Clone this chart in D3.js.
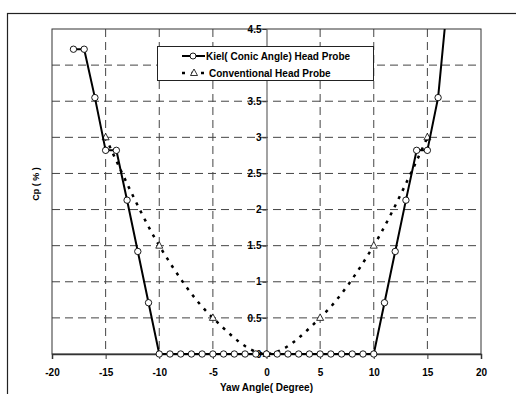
<!DOCTYPE html>
<html>
<head>
<meta charset="utf-8">
<script src="https://cdn.jsdelivr.net/npm/d3@7"></script>
<style>
  body { margin: 0; background: #fff; }
  svg text { font-family: "Liberation Sans", Arial, sans-serif; }
</style>
</head>
<body>
<div id="chart-area"></div>
<script>
// data
var kielX = [-18, -17, -16, -15, -14, -13, -12, -11, -10, -9, -8, -7, -6, -5, -4, -3, -2, -1, 0,
             1, 2, 3, 4, 5, 6, 7, 8, 9, 10, 11, 12, 13, 14, 15, 16, 17];
var kielCp = [4.22, 4.22, 3.55, 2.82, 2.82, 2.13, 1.42, 0.71, 0, 0, 0, 0, 0, 0, 0, 0, 0, 0, 0,
              0, 0, 0, 0, 0, 0, 0, 0, 0, 0, 0.71, 1.42, 2.13, 2.82, 2.82, 3.55, 5.1];
var convX = [-15, -10, -5, 0, 5, 10, 15];
var convCp = [3, 1.5, 0.5, 0, 0.5, 1.5, 3];
var xTicks = [-20, -15, -10, -5, 0, 5, 10, 15, 20];
var yTicks = [0, 0.5, 1, 1.5, 2, 2.5, 3, 3.5, 4, 4.5];
var legendNames = ["Kiel( Conic Angle) Head Probe", "Conventional Head Probe"];

var svg_width = 516;
var svg_height = 394;
var pLeft = 52, pRight = 481, pTop = 29, pBottom = 354;

var svg = d3.select("#chart-area").append("svg")
    .attr("width", svg_width)
    .attr("height", svg_height);

// outer frame (runs off the right and bottom edges)
svg.append("rect")
    .attr("x", 7.5).attr("y", 13.5)
    .attr("width", 520).attr("height", 400)
    .attr("fill", "#fff").attr("stroke", "#222").attr("stroke-width", 1.2);

var x = d3.scaleLinear().domain([-20, 20]).range([pLeft, pRight]);
var y = d3.scaleLinear().domain([0, 4.5]).range([pBottom, pTop]);

// grid
svg.selectAll(".hgrid")
    .data(yTicks.filter(function(d) { return d > 0 && d < 4.5; }))
    .enter().append("line")
    .attr("x1", pLeft).attr("x2", pRight)
    .attr("y1", function(d) { return y(d); })
    .attr("y2", function(d) { return y(d); })
    .attr("stroke", "#444").attr("stroke-dasharray", "8,5");

svg.selectAll(".vgrid")
    .data(xTicks.filter(function(d) { return d != 0 && Math.abs(d) < 20; }))
    .enter().append("line")
    .attr("y1", pTop).attr("y2", pBottom)
    .attr("x1", function(d) { return x(d); })
    .attr("x2", function(d) { return x(d); })
    .attr("stroke", "#444").attr("stroke-dasharray", "8,5");

// plot frame
svg.append("rect")
    .attr("x", pLeft).attr("y", pTop)
    .attr("width", pRight - pLeft).attr("height", pBottom - pTop)
    .attr("fill", "none").attr("stroke", "#333").attr("stroke-width", 1);

// x axis
var xAxis = svg.append("g")
    .attr("transform", "translate(0," + pBottom + ")")
    .call(d3.axisBottom(x).tickValues(xTicks).tickSize(5).tickPadding(10)
        .tickFormat(function(d) { return String(d); }));
xAxis.select(".domain").attr("stroke", "#333").attr("stroke-width", 1.5);
xAxis.selectAll(".tick line").attr("stroke", "#333");
xAxis.selectAll("text")
    .style("font-size", "10px").style("font-weight", "bold").attr("fill", "#000");

// y axis at x = 0 (the "4" label sits under the legend in the original)
var yAxis = svg.append("g")
    .attr("transform", "translate(" + x(0) + ",0)")
    .call(d3.axisLeft(y).tickValues(yTicks).tickSize(4).tickPadding(1)
        .tickFormat(function(d) { return d == 4 ? "" : String(d); }));
yAxis.select(".domain").attr("stroke", "#666").attr("stroke-width", 1.2);
yAxis.selectAll(".tick line").attr("stroke", "#333");
yAxis.selectAll("text")
    .style("font-size", "10px").style("font-weight", "bold").attr("fill", "#000");

// clip for series
svg.append("clipPath").attr("id", "clip")
    .append("rect").attr("x", pLeft).attr("y", pTop)
    .attr("width", pRight - pLeft).attr("height", pBottom - pTop + 6);

var conv = convX.map(function(d, i) { return [d, convCp[i]]; });
var kiel = kielX.map(function(d, i) { return [d, kielCp[i]]; });

var g = svg.append("g").attr("clip-path", "url(#clip)");

g.append("path")
    .datum(conv)
    .attr("d", d3.line().x(function(d) { return x(d[0]); }).y(function(d) { return y(d[1]); })
        .curve(d3.curveCatmullRom))
    .attr("fill", "none").attr("stroke", "#000")
    .attr("stroke-width", 2.5).attr("stroke-dasharray", "3,6");

function tri(px, py) {
    return "M" + px + "," + (py - 4) + "L" + (px + 3.5) + "," + (py + 2.5) + "L" + (px - 3.5) + "," + (py + 2.5) + "Z";
}

g.selectAll(".tri")
    .data(conv).enter().append("path")
    .attr("d", function(d) { return tri(x(d[0]), y(d[1])); })
    .attr("fill", "#fff").attr("stroke", "#000").attr("stroke-width", 0.8);

g.append("path")
    .datum(kiel)
    .attr("d", d3.line().x(function(d) { return x(d[0]); }).y(function(d) { return y(d[1]); }))
    .attr("fill", "none").attr("stroke", "#000").attr("stroke-width", 2);

g.selectAll(".dot")
    .data(kiel.filter(function(d) { return d[1] <= 4.5; })).enter().append("circle")
    .attr("cx", function(d) { return x(d[0]); })
    .attr("cy", function(d) { return y(d[1]); })
    .attr("r", 3.2)
    .attr("fill", "#fff").attr("stroke", "#000").attr("stroke-width", 0.9);

// legend
var lg = svg.append("g");
lg.append("rect")
    .attr("x", 157.5).attr("y", 46.5).attr("width", 216).attr("height", 34)
    .attr("fill", "#fff").attr("stroke", "#222");

lg.append("line").attr("x1", 182).attr("x2", 205).attr("y1", 56).attr("y2", 56)
    .attr("stroke", "#000").attr("stroke-width", 2);
lg.append("circle").attr("cx", 193).attr("cy", 56).attr("r", 3)
    .attr("fill", "#fff").attr("stroke", "#000").attr("stroke-width", 0.9);
lg.append("line").attr("x1", 182).attr("x2", 205).attr("y1", 73).attr("y2", 73)
    .attr("stroke", "#000").attr("stroke-width", 2.5).attr("stroke-dasharray", "3,6.5");
lg.append("path").attr("d", tri(194, 73))
    .attr("fill", "#fff").attr("stroke", "#000").attr("stroke-width", 0.8);

lg.selectAll(".ltext")
    .data(legendNames).enter().append("text")
    .attr("x", function(d, i) { return i == 0 ? 206 : 209; })
    .attr("y", function(d, i) { return 59.5 + i * 17; })
    .style("font-size", "10px").style("font-weight", "bold")
    .text(function(d) { return d; });

// axis titles
svg.append("text")
    .attr("x", x(0)).attr("y", 391)
    .attr("text-anchor", "middle")
    .style("font-size", "10px").style("font-weight", "bold")
    .text("Yaw Angle( Degree)");

svg.append("text")
    .attr("transform", "translate(39," + 184 + ") rotate(-90)")
    .attr("text-anchor", "middle")
    .style("font-size", "9px").style("font-weight", "bold")
    .text("Cp ( % )");
</script>
</body>
</html>
